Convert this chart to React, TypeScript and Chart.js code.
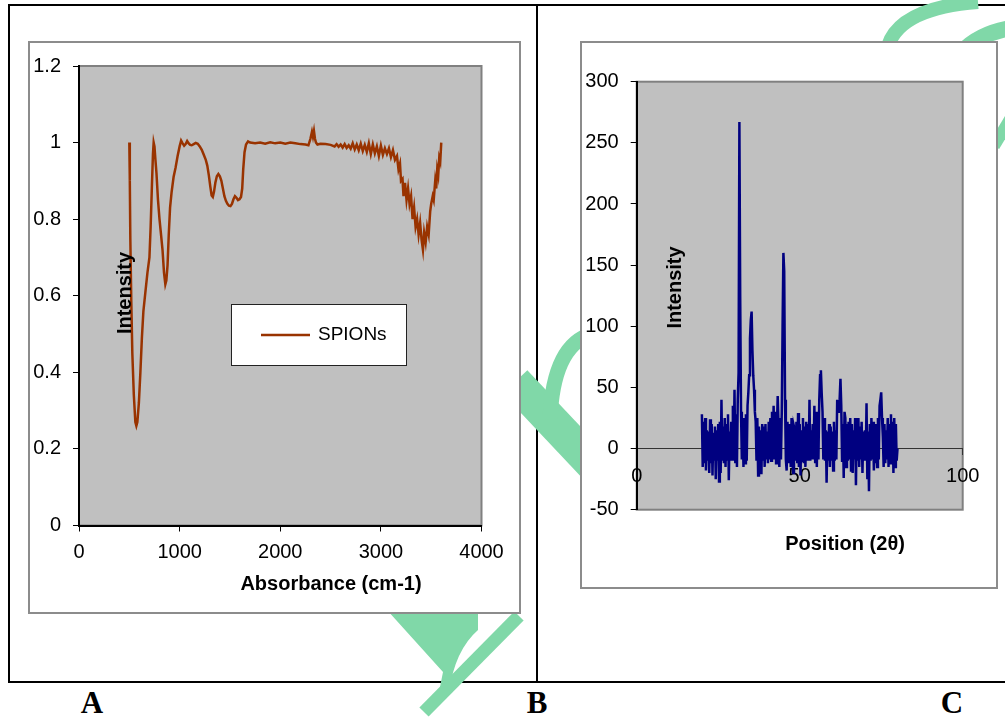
import React, { useEffect, useRef } from "react";
import { Chart, registerables } from "chart.js";

Chart.register(...registerables);

// ---------------- FTIR (panel A) ----------------
const FTIR_SERIES_LABEL = "SPIONs";
const FTIR_WAVENUMBER = [
  500, 505, 510, 520, 530, 545, 560, 570, 580, 595,
  610, 625, 640, 660, 680, 700, 712, 725, 735, 742,
  750, 758, 770, 785, 800, 815, 830, 845, 858, 868,
  880, 892, 905, 920, 940, 960, 980, 1000, 1015, 1030,
  1045, 1060, 1075, 1090, 1105, 1120, 1140, 1160, 1180, 1200,
  1220, 1240, 1260, 1275, 1290, 1305, 1318, 1330, 1342, 1355,
  1370, 1385, 1400, 1415, 1430, 1445, 1460, 1475, 1490, 1505,
  1520, 1535, 1550, 1565, 1580, 1595, 1610, 1622, 1632, 1645,
  1660, 1680, 1700,
  1750, 1800, 1850, 1900, 1950, 2000, 2050, 2100, 2150, 2200,
  2250, 2280, 2300, 2315, 2325, 2335, 2345, 2355, 2370, 2400,
  2450, 2500, 2540, 2560, 2580, 2600, 2620, 2640, 2660, 2680,
  2700, 2720, 2740, 2760, 2780, 2800, 2820, 2840, 2860, 2880,
  2900, 2920, 2940, 2960, 2980, 3000, 3020, 3040, 3060, 3080,
  3100, 3120, 3140,
  3160, 3175, 3190, 3200, 3215, 3225, 3240, 3255, 3270, 3285,
  3300, 3315, 3330, 3345, 3360, 3375, 3390, 3405, 3418, 3430,
  3445, 3460, 3475, 3490, 3500, 3515, 3525, 3540, 3550, 3560,
  3570, 3580, 3590, 3600,
];
const FTIR_INTENSITY = [
  1.0, 0.9, 0.75, 0.58, 0.45, 0.34, 0.27, 0.26, 0.27, 0.32,
  0.40, 0.49, 0.56, 0.61, 0.66, 0.70, 0.78, 0.89, 0.97, 1.0,
  0.99, 0.96, 0.92, 0.85, 0.80, 0.76, 0.72, 0.66, 0.63, 0.64,
  0.68, 0.76, 0.83, 0.87, 0.91, 0.935, 0.965, 0.99, 1.005, 0.998,
  0.992, 0.996, 1.004, 0.998, 0.994, 0.993, 0.996, 0.999, 0.997, 0.99,
  0.981, 0.968, 0.955, 0.94, 0.915, 0.885, 0.862, 0.858, 0.872, 0.895,
  0.912, 0.918, 0.912, 0.9, 0.88, 0.86, 0.848, 0.84, 0.835, 0.834,
  0.84, 0.852, 0.86, 0.856, 0.85, 0.852, 0.858, 0.88, 0.93, 0.975,
  0.995, 1.003, 1.0,
  0.998, 1.0, 0.997, 1.001, 0.998, 1.0, 0.997, 1.0, 0.998, 0.996,
  0.995, 0.993, 1.01, 1.028, 1.015, 1.03, 1.01, 1.0, 0.995, 0.997,
  0.996, 0.994, 0.99, 0.996, 0.989, 0.995, 0.987, 0.996, 0.986, 0.993,
  0.984, 0.998, 0.982, 0.995, 0.98, 0.997, 0.978, 0.994, 0.976, 0.998,
  0.97, 0.995, 0.972, 0.99, 0.965, 0.992, 0.968, 0.985, 0.97, 0.985,
  0.962, 0.98, 0.955,
  0.965, 0.93, 0.945, 0.9, 0.905, 0.86, 0.895, 0.85, 0.88, 0.84,
  0.86, 0.8, 0.83, 0.78, 0.8, 0.76, 0.79, 0.745, 0.72, 0.765,
  0.74, 0.78, 0.76, 0.82, 0.84, 0.86, 0.85, 0.9, 0.88, 0.93,
  0.915, 0.96, 0.95, 1.0,
];
const FTIR_X_TITLE = "Absorbance (cm-1)";
const FTIR_Y_TITLE = "Intensity";

// ---------------- XRD (panel B) ----------------
const XRD_POSITION = [
  20, 20.25, 20.5, 20.75, 21, 21.25, 21.5, 21.75, 22, 22.25, 22.5, 22.75,
  23, 23.25, 23.5, 23.75, 24, 24.25, 24.5, 24.75, 25, 25.25, 25.5, 25.75,
  26, 26.25, 26.5, 26.75, 27, 27.25, 27.5, 27.75, 28, 28.25, 28.5, 28.75,
  29, 29.25, 29.5, 29.75, 30, 30.25, 30.5, 30.75, 31, 31.25, 31.5, 31.75,
  32, 32.25, 32.5, 32.75, 33, 33.25, 33.5, 33.75, 34, 34.25, 34.5, 34.75,
  35, 35.25, 35.5, 35.75, 36, 36.25, 36.5, 36.75, 37, 37.25, 37.5, 37.75,
  38, 38.25, 38.5, 38.75, 39, 39.25, 39.5, 39.75, 40, 40.25, 40.5, 40.75,
  41, 41.25, 41.5, 41.75, 42, 42.25, 42.5, 42.75, 43, 43.25, 43.5, 43.75,
  44, 44.25, 44.5, 44.75, 45, 45.25, 45.5, 45.75, 46, 46.25, 46.5, 46.75,
  47, 47.25, 47.5, 47.75, 48, 48.25, 48.5, 48.75, 49, 49.25, 49.5, 49.75,
  50, 50.25, 50.5, 50.75, 51, 51.25, 51.5, 51.75, 52, 52.25, 52.5, 52.75,
  53, 53.25, 53.5, 53.75, 54, 54.25, 54.5, 54.75, 55, 55.25, 55.5, 55.75,
  56, 56.25, 56.5, 56.75, 57, 57.25, 57.5, 57.75, 58, 58.25, 58.5, 58.75,
  59, 59.25, 59.5, 59.75, 60, 60.25, 60.5, 60.75, 61, 61.25, 61.5, 61.75,
  62, 62.25, 62.5, 62.75, 63, 63.25, 63.5, 63.75, 64, 64.25, 64.5, 64.75,
  65, 65.25, 65.5, 65.75, 66, 66.25, 66.5, 66.75, 67, 67.25, 67.5, 67.75,
  68, 68.25, 68.5, 68.75, 69, 69.25, 69.5, 69.75, 70, 70.25, 70.5, 70.75,
  71, 71.25, 71.5, 71.75, 72, 72.25, 72.5, 72.75, 73, 73.25, 73.5, 73.75,
  74, 74.25, 74.5, 74.75, 75, 75.25, 75.5, 75.75, 76, 76.25, 76.5, 76.75,
  77, 77.25, 77.5, 77.75, 78, 78.25, 78.5, 78.75, 79, 79.25, 79.5, 79.75,
  80,
];
const XRD_INTENSITY = [
  28, -15, 22, -12, 25, -18, 15, -10, 14, -20, 24, -12,
  20, -22, 13, -9, 18, -25, 15, -10, 20, -27, 22, -20,
  40, -10, 18, -12, 25, -15, 20, -9, 28, -26, 14, -10,
  22, -9, 35, -8, 48, -12, 28, -15, 40, 62, 267, 124,
  30, -9, 20, -15, 25, -12, 28, -10, 35, 46, 60, 90,
  105, 112, 80, 60, 48, 30, 22, -10, 25, -22, 18, -20,
  15, -21, 20, -9, 18, -15, 20, -9, 14, -12, 22, -9,
  25, -10, 30, -9, 35, -9, 30, -12, 15, 43, 20, -15,
  25, -9, 30, 100, 160, 145, 40, -9, -18, 22, -12, 18,
  20, -15, 25, -10, -20, 18, 15, -10, 22, -12, 29, -15,
  20, -22, 15, -10, 25, -12, 18, -15, 22, -9, 20, -10,
  40, -10, 15, -9, 20, -9, 35, -12, 30, -15, 25, -9,
  40, 60, 64, 45, 30, -9, 25, -10, 15, -28, 14, -10,
  20, -15, 18, -10, 14, -18, 22, -10, 15, -9, 40, 30,
  35, 40, 57, 35, -10, 20, -24, 30, 25, -15, 20, -10,
  22, -9, 25, -18, 20, -20, 15, -9, 25, -30, 20, -10,
  25, -15, 18, -9, 22, -20, 14, -9, 15, -10, 37, -25,
  14, -35, 20, -10, 25, -9, 22, -18, 15, -12, 20, -15,
  25, -9, 35, 40, 46, 25, 10, -15, 20, -12, 15, -9,
  25, -15, 20, -12, 28, -10, 22, -20, 25, -15, 20, -10,
  0,
];
const XRD_X_TITLE = "Position (2\u03b8)";
const XRD_Y_TITLE = "Intensity";

const PANEL_LETTERS = ["A", "B", "C"];

const SANS = "'Liberation Sans', Arial, sans-serif";
const TICK_FONT = { family: SANS, size: 20 };

function numLabel(v: number) {
  return String(Number(Number(v).toFixed(2)));
}

function plotAreaPlugin() {
  return {
    id: "plotAreaBg",
    beforeDraw(chart: any) {
      const { ctx, chartArea: a } = chart;
      ctx.save();
      ctx.fillStyle = "#C0C0C0";
      ctx.fillRect(a.left, a.top, a.right - a.left, a.bottom - a.top);
      ctx.strokeStyle = "#808080";
      ctx.lineWidth = 2;
      ctx.strokeRect(a.left, a.top, a.right - a.left, a.bottom - a.top);
      ctx.restore();
    },
  };
}

function drawLabel(ctx: CanvasRenderingContext2D, text: string, x: number, y: number, font: string, rotate: boolean, align: CanvasTextAlign = "center") {
  ctx.save();
  ctx.translate(x, y);
  if (rotate) ctx.rotate(-Math.PI / 2);
  ctx.font = font;
  ctx.fillStyle = "#000";
  ctx.textAlign = align;
  ctx.textBaseline = "middle";
  ctx.fillText(text, 0, 0);
  ctx.restore();
}

function titlesPlugin(items: Array<{ text: string; x: number; y: number; rotate: boolean }>, legend?: any) {
  return {
    id: "axisTitles",
    afterDraw(chart: any) {
      const ctx = chart.ctx;
      items.forEach((it) => drawLabel(ctx, it.text, it.x, it.y, `bold 20px ${SANS}`, it.rotate));
      if (legend) {
        ctx.save();
        ctx.fillStyle = "#fff";
        ctx.fillRect(legend.x0, legend.y0, legend.x1 - legend.x0, legend.y1 - legend.y0);
        ctx.strokeStyle = "#222";
        ctx.lineWidth = 1;
        ctx.strokeRect(legend.x0 + 0.5, legend.y0 + 0.5, legend.x1 - legend.x0, legend.y1 - legend.y0);
        const ds = chart.data.datasets[0];
        ctx.strokeStyle = ds.borderColor;
        ctx.lineWidth = 2.5;
        ctx.beginPath();
        ctx.moveTo(legend.lx0, legend.ly);
        ctx.lineTo(legend.lx1, legend.ly);
        ctx.stroke();
        ctx.restore();
        drawLabel(ctx, ds.label, legend.tx, legend.ly, `19px ${SANS}`, false, "left");
      }
    },
  };
}

function axisCommon() {
  return {
    grid: { display: true, drawOnChartArea: false, drawTicks: true, tickLength: 6, color: "#000", lineWidth: 1 },
    border: { display: true, color: "#000", width: 2 },
  };
}

function buildFtir() {
  return {
    type: "line",
    data: {
      datasets: [
        {
          label: FTIR_SERIES_LABEL,
          data: FTIR_WAVENUMBER.map((x, i) => ({ x, y: FTIR_INTENSITY[i] })),
          borderColor: "#993300",
          borderWidth: 2.5,
          pointRadius: 0,
          tension: 0,
          fill: false,
        },
      ],
    },
    options: {
      responsive: false,
      animation: false,
      layout: { padding: { top: 18, right: 38.5, bottom: 47.5, left: 0 } },
      plugins: { legend: { display: false }, tooltip: { enabled: false }, title: { display: false } },
      scales: {
        x: {
          type: "linear",
          min: 0,
          max: 4000,
          afterFit: (s: any) => { s.height = 40; },
          ticks: { stepSize: 1000, font: TICK_FONT, color: "#000", padding: 9, maxRotation: 0, callback: (v: any) => numLabel(v) },
          ...axisCommon(),
        },
        y: {
          type: "linear",
          min: 0,
          max: 1.2,
          afterFit: (s: any) => { s.width = 50; },
          ticks: { stepSize: 0.2, font: TICK_FONT, color: "#000", padding: 12, callback: (v: any) => numLabel(v) },
          ...axisCommon(),
        },
      },
    },
    plugins: [
      plotAreaPlugin(),
      titlesPlugin(
        [
          { text: FTIR_X_TITLE, x: 302, y: 542, rotate: false },
          { text: FTIR_Y_TITLE, x: 96.5, y: 251, rotate: true },
        ],
        { x0: 202, y0: 262, x1: 377, y1: 323, lx0: 232, lx1: 281, ly: 293, tx: 289 }
      ),
    ],
  };
}

function buildXrd() {
  return {
    type: "line",
    data: {
      datasets: [
        {
          label: "XRD",
          data: XRD_POSITION.map((x, i) => ({ x, y: XRD_INTENSITY[i] })),
          borderColor: "#000080",
          borderWidth: 2.5,
          pointRadius: 0,
          tension: 0,
          fill: false,
        },
      ],
    },
    options: {
      responsive: false,
      animation: false,
      layout: { padding: { top: 39.7, right: 34.3, bottom: 78.3, left: 0 } },
      plugins: { legend: { display: false }, tooltip: { enabled: false }, title: { display: false } },
      scales: {
        x: {
          type: "linear",
          position: { y: 0 },
          min: 0,
          max: 100,
          z: 1,
          afterFit: (s: any) => { s.height = 30; },
          ticks: { stepSize: 50, font: TICK_FONT, color: "#000", padding: 10, maxRotation: 0, callback: (v: any) => numLabel(v) },
          grid: { display: true, drawOnChartArea: false, drawTicks: true, tickLength: 6, color: "#333", lineWidth: 1 },
          border: { display: true, color: "#333", width: 1 },
        },
        y: {
          type: "linear",
          min: -50,
          max: 300,
          afterFit: (s: any) => { s.width = 55.7; },
          ticks: { stepSize: 50, font: TICK_FONT, color: "#000", padding: 12, callback: (v: any) => numLabel(v) },
          ...axisCommon(),
        },
      },
    },
    plugins: [
      plotAreaPlugin(),
      titlesPlugin([
        { text: XRD_X_TITLE, x: 264, y: 502, rotate: false },
        { text: XRD_Y_TITLE, x: 94.5, y: 245.5, rotate: true },
      ]),
    ],
  };
}

function ChartCanvas({ left, top, width, height, build }: any) {
  const ref = useRef<HTMLCanvasElement | null>(null);
  useEffect(() => {
    const chart = new Chart(ref.current as HTMLCanvasElement, build() as any);
    return () => chart.destroy();
  }, []);
  return (
    <canvas
      ref={ref}
      width={width}
      height={height}
      style={{ position: "absolute", left, top, width, height, display: "block" }}
    />
  );
}

const GREEN = "#80D8A8";

function Watermark() {
  return (
    <svg width={1005} height={719} style={{ position: "absolute", left: 0, top: 0 }}>
      <g fill={GREEN} stroke="none">
        <path d="M 378 600 L 478 600 L 478 630 Q 455 650 449 692 L 439 692 L 443 672 Z" />
      </g>
      <g fill="none" stroke={GREEN}>
        <path d="M 519 616 L 424 712" strokeWidth={13} />
        <path d="M 515 382 L 600 472" strokeWidth={34} />
        <path d="M 550 420 Q 553 345 592 334" strokeWidth={15} />
        <path d="M 888 46 Q 900 8 978 2" strokeWidth={14} />
        <path d="M 962 52 Q 980 33 1012 28" strokeWidth={16} />
        <path d="M 994 146 L 1012 116" strokeWidth={12} />
      </g>
    </svg>
  );
}

export default function App() {
  const line = (l: number, t: number, w: number, h: number) => (
    <div style={{ position: "absolute", left: l, top: t, width: w, height: h, background: "#000" }} />
  );
  const letter = (txt: string, cx: number) => (
    <div
      key={txt}
      style={{
        position: "absolute",
        left: cx - 30,
        top: 687,
        width: 60,
        textAlign: "center",
        fontFamily: "'Liberation Serif', 'Times New Roman', serif",
        fontWeight: "bold",
        fontSize: 31,
        lineHeight: "31px",
        color: "#000",
      }}
    >
      {txt}
    </div>
  );
  return (
    <div style={{ position: "absolute", left: 0, top: 0, width: 1005, height: 719, background: "#fff", overflow: "hidden" }}>
      {line(8, 4, 997, 2)}
      {line(8, 4, 2, 679)}
      {line(8, 681, 997, 2)}
      {line(536, 4, 2, 679)}
      <Watermark />
      <div style={{ position: "absolute", left: 28, top: 41, width: 493, height: 573, boxSizing: "border-box", border: "2px solid #8c8c8c", background: "#fff" }} />
      <div style={{ position: "absolute", left: 580, top: 41, width: 418, height: 548, boxSizing: "border-box", border: "2px solid #8c8c8c", background: "#fff" }} />
      <ChartCanvas left={29} top={42} width={491} height={571} build={buildFtir} />
      <ChartCanvas left={581} top={42} width={416} height={546} build={buildXrd} />
      {letter(PANEL_LETTERS[0], 92)}
      {letter(PANEL_LETTERS[1], 537)}
      {letter(PANEL_LETTERS[2], 952)}
    </div>
  );
}
